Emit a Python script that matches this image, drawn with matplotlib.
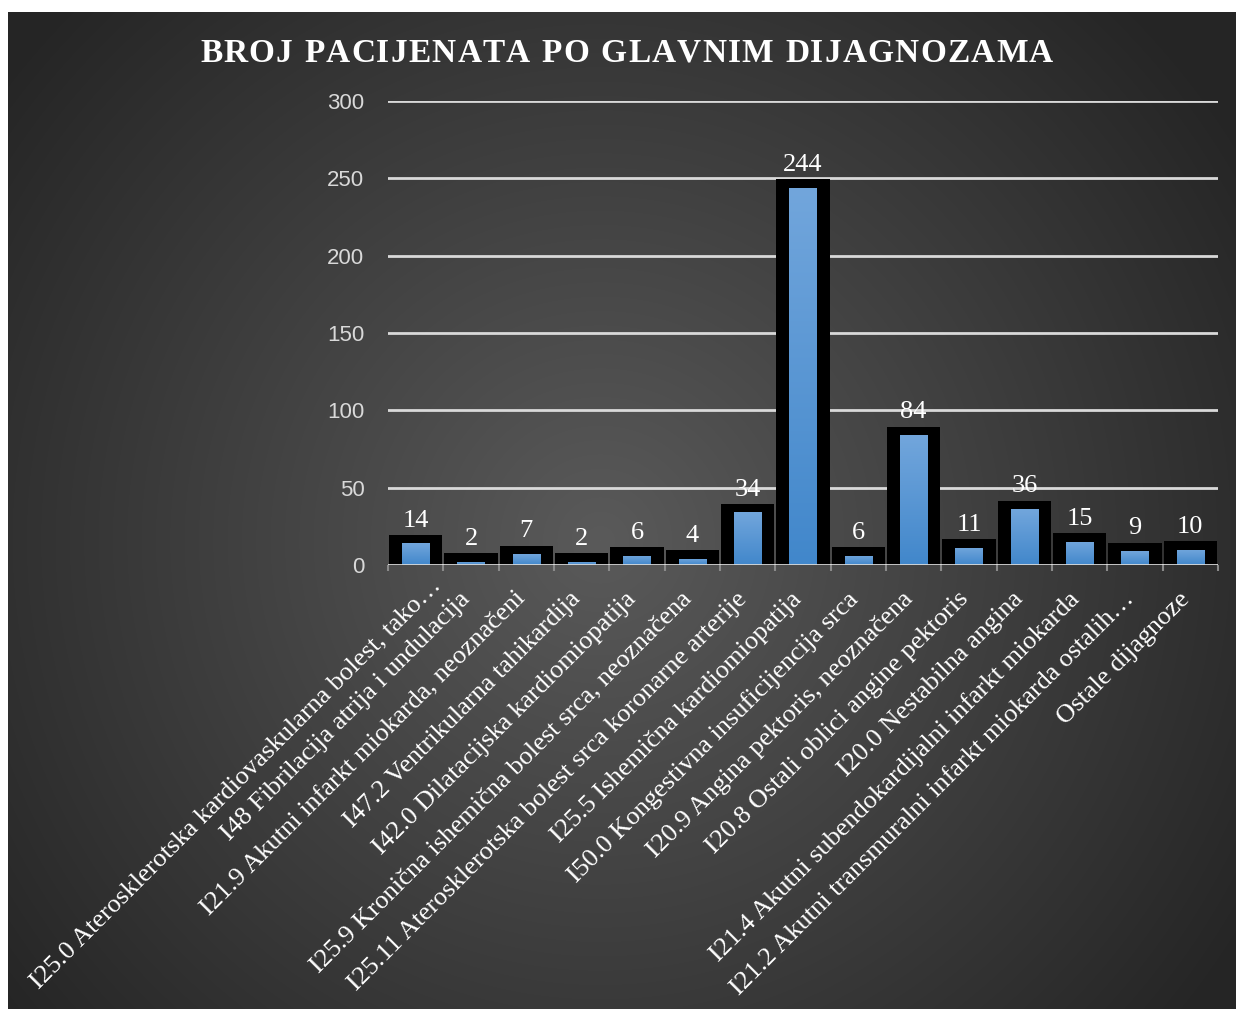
import numpy as np
import matplotlib
matplotlib.use("Agg")
import matplotlib.pyplot as plt
from matplotlib.transforms import ScaledTranslation

categories = [
    "I25.0 Aterosklerotska kardiovaskularna bolest, tako…",
    "I48 Fibrilacija atrija i undulacija",
    "I21.9 Akutni infarkt miokarda, neoznačeni",
    "I47.2 Ventrikularna tahikardija",
    "I42.0 Dilatacijska kardiomiopatija",
    "I25.9 Kronična ishemična bolest srca, neoznačena",
    "I25.11 Aterosklerotska bolest srca koronarne arterije",
    "I25.5 Ishemična kardiomiopatija",
    "I50.0 Kongestivna insuficijencija srca",
    "I20.9 Angina pektoris, neoznačena",
    "I20.8 Ostali oblici angine pektoris",
    "I20.0 Nestabilna angina",
    "I21.4 Akutni subendokardijalni infarkt miokarda",
    "I21.2 Akutni transmuralni infarkt miokarda ostalih…",
    "Ostale dijagnoze",
]
values = [14, 2, 7, 2, 6, 4, 34, 244, 6, 84, 11, 36, 15, 9, 10]
yticks = [0, 50, 100, 150, 200, 250, 300]
title = "BROJ PACIJENATA PO GLAVNIM DIJAGNOZAMA"

W, H = 1236, 1009
fig = plt.figure(figsize=(W / 100, H / 100), dpi=100, facecolor="white")

# background with radial gradient
bg = fig.add_axes([8 / W, 0, (W - 8) / W, (H - 12) / H], zorder=0)
bg.set_axis_off()
yy, xx = np.mgrid[0:H - 12, 0:W - 8]
cx, cy = 600 - 8, 540 - 12
d = np.sqrt((xx - cx) ** 2 + (yy - cy) ** 2) / 760.0
d = np.clip(d, 0, 1)
c0 = np.array([0x5a, 0x5a, 0x5a]) / 255
c1 = np.array([0x25, 0x25, 0x25]) / 255
img = c0[None, None, :] * (1 - d[..., None]) + c1[None, None, :] * d[..., None]
bg.imshow(img, aspect="auto", extent=[0, 1, 0, 1], origin="upper")
bg.set_xlim(0, 1)
bg.set_ylim(0, 1)

ax = fig.add_axes([388 / W, 1 - 565 / H, (1218 - 388) / W, (565 - 101) / H], zorder=1)
ax.set_facecolor("none")
for s in ax.spines.values():
    s.set_visible(False)

x = np.arange(len(values))
ax.set_xlim(-0.5, len(values) - 0.5)
ax.set_ylim(0, 300)

axh_px = 565 - 101
pad = 300 * 8.5 / axh_px
ax.bar(x, np.array(values) + pad, width=0.965, color="black", zorder=3)
bars = ax.bar(x, values, width=0.5, color="#5b9bd5", zorder=4)

grad = np.linspace(0, 1, 256)[:, None]
ctop = np.array([0x72, 0xa6, 0xdc]) / 255
cbot = np.array([0x41, 0x87, 0xcb]) / 255
gimg = ctop[None, None, :] * (1 - grad[..., None]) + cbot[None, None, :] * grad[..., None]
for b in bars:
    bx, by = b.get_x(), b.get_y()
    bw, bh = b.get_width(), b.get_height()
    im = ax.imshow(gimg, extent=[bx, bx + bw, by, by + bh], aspect="auto",
                   origin="upper", zorder=5)
    im.set_clip_path(b)

ax.set_yticks(yticks)
ax.yaxis.grid(True, color="#d9d9d9", linewidth=2, zorder=2)
ax.set_axisbelow(False)
ax.tick_params(axis="y", length=0, pad=17, labelsize=16, labelcolor="#d9d9d9")
for t in ax.get_yticklabels():
    t.set_fontfamily("Liberation Sans")
ax.axhline(0, color="#d9d9d9", linewidth=2, zorder=6)

ax.set_xticks(x)
ax.set_xticklabels(categories, rotation=45, ha="right", va="top",
                   rotation_mode="anchor", fontsize=19, color="white",
                   fontfamily="Liberation Serif")
ax.tick_params(axis="x", length=0, pad=16.5)
for i, t in enumerate(ax.get_xticklabels()):
    if i == 0:
        shift = ScaledTranslation(14 / 100, 14 / 100, fig.dpi_scale_trans)
    else:
        shift = ScaledTranslation(-12 / 100, 0, fig.dpi_scale_trans)
    t.set_transform(t.get_transform() + shift)
ax.set_xticks(np.arange(-0.5, len(values), 1), minor=True)
ax.tick_params(axis="x", which="minor", length=4, width=1.5, color="#8a8a8a")

for xi, v in zip(x, values):
    ax.annotate(str(v), xy=(xi, v + pad), xytext=(0, 6), textcoords="offset points",
                ha="center", va="baseline", fontsize=19, color="white",
                fontfamily="Liberation Serif", zorder=7)

# title with letter spacing
fig.canvas.draw()
renderer = fig.canvas.get_renderer()
tprops = dict(fontsize=24, fontweight="bold", fontfamily="Liberation Serif", color="white")
widths = []
for ch in title:
    t = fig.text(0, 0, ch if ch != " " else "n", **tprops)
    w = t.get_window_extent(renderer).width
    if ch == " ":
        w *= 0.5
    widths.append(w)
    t.remove()
target = 1053 - 200
natural = sum(widths)
spacing = (target - natural) / (len(title) - 1)
xpos = 200.0
ybase = H - 62
for ch, w in zip(title, widths):
    if ch != " ":
        fig.text(xpos / W, ybase / H, ch, ha="left", va="baseline", **tprops)
    xpos += w + spacing

fig.savefig("out.png", dpi=100, facecolor="white")
